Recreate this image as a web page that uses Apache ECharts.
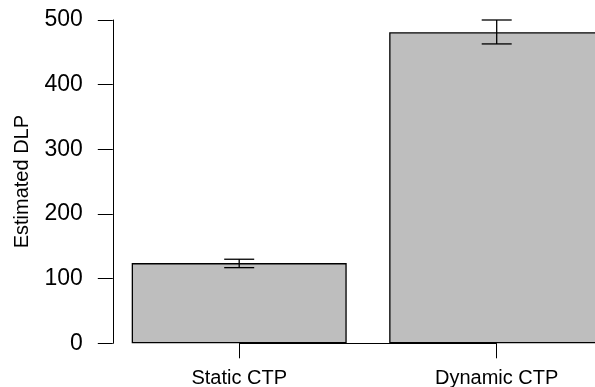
<!DOCTYPE html>
<html><head><meta charset="utf-8">
<script src="https://cdn.jsdelivr.net/npm/echarts@6/dist/echarts.min.js"></script>
<style>html,body{margin:0;padding:0;background:#fff}#c{width:595px;height:387px}</style>
</head><body><div id="c"></div>
<script>
const categories = ['Static CTP', 'Dynamic CTP'];
const dlpMeans = [124, 481];
const dlpLower = [117, 463];
const dlpUpper = [130, 500];
const yTicks = [0, 100, 200, 300, 400, 500];

const FONT = '"Liberation Sans", Arial, Helvetica, sans-serif';
const chart = echarts.init(document.getElementById('c'), null, {renderer: 'canvas'});
chart.setOption({
  animation: false,
  backgroundColor: '#ffffff',
  grid: {left: 110.45, top: 20, width: 515, height: 323.3, containLabel: false, outerBoundsMode: 'none'},
  xAxis: {
    type: 'category', data: categories, boundaryGap: true,
    axisLine: {show: false},
    axisTick: {show: true, alignWithLabel: true, length: 15, lineStyle: {color: '#000', width: 1}},
    axisLabel: {color: '#000', fontSize: 20, fontFamily: FONT, margin: 25},
    splitLine: {show: false}
  },
  yAxis: {
    type: 'value', min: yTicks[0], max: yTicks[yTicks.length - 1], interval: 100, offset: -2.35,
    name: 'Estimated DLP', nameLocation: 'middle', nameGap: 80, nameRotate: 90,
    nameTextStyle: {color: '#000', fontSize: 20, fontFamily: FONT},
    axisLine: {show: true, lineStyle: {color: '#000', width: 1}},
    axisTick: {show: true, length: 15, lineStyle: {color: '#000', width: 1}},
    axisLabel: {color: '#000', fontSize: 23, fontFamily: FONT, margin: 30},
    splitLine: {show: false}
  },
  series: [
    {
      type: 'bar', data: dlpMeans, barWidth: 215,
      itemStyle: {color: '#bebebe', borderColor: '#000', borderWidth: 1.3},
      markLine: {
        silent: true, symbol: 'none', label: {show: false},
        lineStyle: {color: '#000', width: 1, type: 'solid'},
        data: [[{coord: [categories[0], 0]}, {coord: [categories[1], 0]}]]
      }
    },
    {
      type: 'custom', z: 10,
      data: categories.map((c, i) => [c, dlpLower[i], dlpUpper[i]]),
      encode: {x: 0, y: [1, 2]},
      renderItem: function (params, api) {
        const lo = api.coord([api.value(0), api.value(1)]);
        const hi = api.coord([api.value(0), api.value(2)]);
        const half = 15;
        const st = {stroke: '#000', lineWidth: 1.3};
        return {type: 'group', children: [
          {type: 'line', shape: {x1: lo[0], y1: lo[1], x2: hi[0], y2: hi[1]}, style: st},
          {type: 'line', shape: {x1: lo[0] - half, y1: lo[1], x2: lo[0] + half, y2: lo[1]}, style: st},
          {type: 'line', shape: {x1: hi[0] - half, y1: hi[1], x2: hi[0] + half, y2: hi[1]}, style: st}
        ]};
      }
    }
  ]
});
</script></body></html>
